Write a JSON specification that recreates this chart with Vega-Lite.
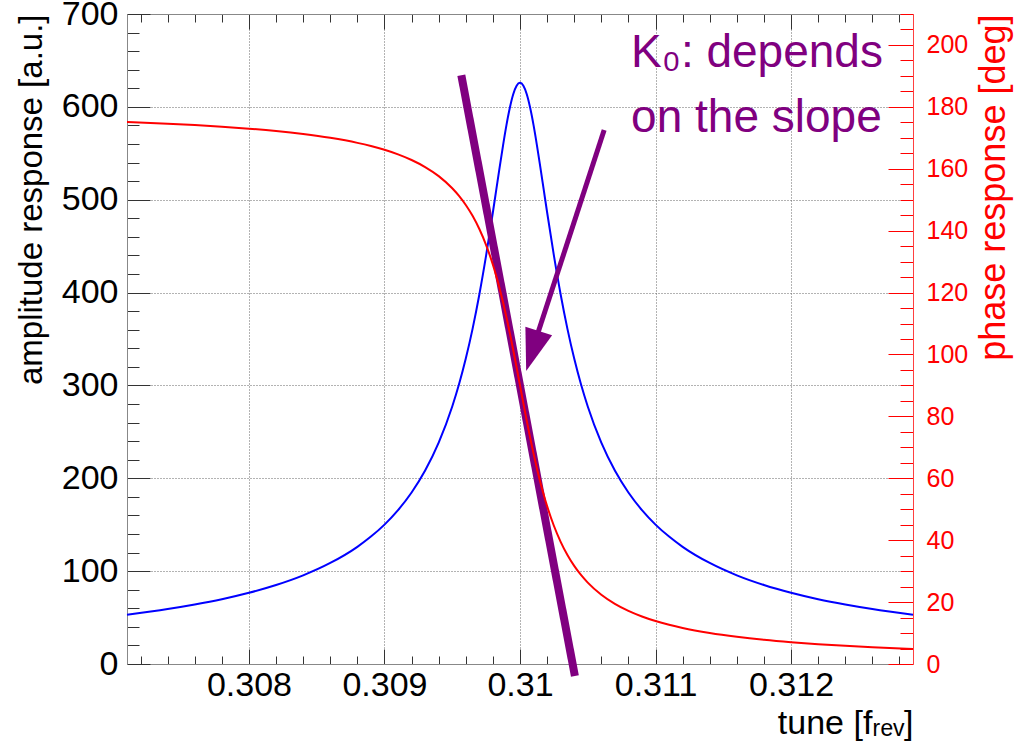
{
  "$schema": "https://vega.github.io/schema/vega-lite/v6.json",
  "width": 786,
  "height": 650,
  "autosize": {"type": "none"},
  "padding": {"left": 127, "top": 14, "right": 116, "bottom": 85},
  "background": "white",
  "config": {
    "view": {"stroke": null},
    "axis": {"labelFont": "Liberation Sans", "titleFont": "Liberation Sans", "titleFontWeight": "normal"},
    "text": {"font": "Liberation Sans"}
  },
  "datasets": {
    "curve": [
      {"x": 0.3071, "amp": 53.1, "phase": 175.13},
      {"x": 0.3074, "amp": 59.2, "phase": 174.57},
      {"x": 0.3076, "amp": 64.1, "phase": 174.12},
      {"x": 0.3078, "amp": 69.8, "phase": 173.59},
      {"x": 0.3080, "amp": 76.7, "phase": 172.96},
      {"x": 0.3082, "amp": 85.1, "phase": 172.19},
      {"x": 0.3084, "amp": 95.5, "phase": 171.22},
      {"x": 0.3086, "amp": 108.8, "phase": 169.99},
      {"x": 0.3088, "amp": 126.2, "phase": 168.37},
      {"x": 0.3089, "amp": 137.2, "phase": 167.34},
      {"x": 0.3090, "amp": 150.1, "phase": 166.13},
      {"x": 0.3091, "amp": 165.7, "phase": 164.65},
      {"x": 0.3092, "amp": 184.7, "phase": 162.84},
      {"x": 0.3093, "amp": 208.3, "phase": 160.56},
      {"x": 0.3094, "amp": 238.3, "phase": 157.63},
      {"x": 0.30950, "amp": 277.3, "phase": 153.71},
      {"x": 0.30955, "amp": 301.2, "phase": 151.24},
      {"x": 0.30960, "amp": 328.9, "phase": 148.30},
      {"x": 0.30965, "amp": 360.9, "phase": 144.79},
      {"x": 0.30970, "amp": 397.9, "phase": 140.53},
      {"x": 0.30975, "amp": 440.0, "phase": 135.34},
      {"x": 0.30980, "amp": 486.5, "phase": 129.00},
      {"x": 0.309825, "amp": 510.8, "phase": 125.32},
      {"x": 0.30985, "amp": 535.1, "phase": 121.27},
      {"x": 0.309875, "amp": 558.6, "phase": 116.84},
      {"x": 0.30990, "amp": 580.3, "phase": 112.04},
      {"x": 0.309925, "amp": 599.0, "phase": 106.89},
      {"x": 0.30995, "amp": 613.6, "phase": 101.44},
      {"x": 0.309975, "amp": 622.8, "phase": 95.78},
      {"x": 0.31000, "amp": 626.0, "phase": 90.00},
      {"x": 0.310025, "amp": 622.8, "phase": 84.22},
      {"x": 0.31005, "amp": 613.6, "phase": 78.56},
      {"x": 0.310075, "amp": 599.0, "phase": 73.11},
      {"x": 0.31010, "amp": 580.3, "phase": 67.96},
      {"x": 0.310125, "amp": 558.6, "phase": 63.16},
      {"x": 0.31015, "amp": 535.1, "phase": 58.73},
      {"x": 0.310175, "amp": 510.8, "phase": 54.68},
      {"x": 0.31020, "amp": 486.5, "phase": 51.00},
      {"x": 0.31025, "amp": 440.0, "phase": 44.66},
      {"x": 0.31030, "amp": 397.9, "phase": 39.47},
      {"x": 0.31035, "amp": 360.9, "phase": 35.21},
      {"x": 0.31040, "amp": 328.9, "phase": 31.70},
      {"x": 0.31045, "amp": 301.2, "phase": 28.76},
      {"x": 0.31050, "amp": 277.3, "phase": 26.29},
      {"x": 0.3106, "amp": 238.3, "phase": 22.37},
      {"x": 0.3107, "amp": 208.3, "phase": 19.44},
      {"x": 0.3108, "amp": 184.7, "phase": 17.16},
      {"x": 0.3109, "amp": 165.7, "phase": 15.35},
      {"x": 0.3110, "amp": 150.1, "phase": 13.87},
      {"x": 0.3111, "amp": 137.2, "phase": 12.66},
      {"x": 0.3112, "amp": 126.2, "phase": 11.63},
      {"x": 0.3114, "amp": 108.8, "phase": 10.01},
      {"x": 0.3116, "amp": 95.5, "phase": 8.78},
      {"x": 0.3118, "amp": 85.1, "phase": 7.81},
      {"x": 0.3120, "amp": 76.7, "phase": 7.04},
      {"x": 0.3122, "amp": 69.8, "phase": 6.41},
      {"x": 0.3124, "amp": 64.1, "phase": 5.88},
      {"x": 0.3126, "amp": 59.2, "phase": 5.43},
      {"x": 0.3129, "amp": 53.1, "phase": 4.87}
    ],
    "annot": [
      {"kind": "slope", "x": 0.309567, "amp": 634},
      {"kind": "slope", "x": 0.310405, "amp": -13},
      {"kind": "arrow", "x": 0.310621, "amp": 575},
      {"kind": "arrow", "x": 0.31012, "amp": 351},
      {"kind": "head", "x": 0.310092, "amp": 337},
      {"kind": "label", "x": 0.31082, "amp": 643, "text": "K₀: depends"},
      {"kind": "label", "x": 0.31082, "amp": 573, "text": "on the slope"}
    ]
  },
  "layer": [
    {
      "layer": [
        {
          "data": {"name": "curve"},
          "mark": {"type": "line", "color": "#0000ff", "strokeWidth": 2, "interpolate": "monotone"},
          "encoding": {
            "x": {
              "field": "x", "type": "quantitative",
              "scale": {"domain": [0.3071, 0.3129], "nice": false, "zero": false},
              "axis": {
                "title": "tune [fᵣₑᵥ]",
                "titleAnchor": "end",
                "titleFontSize": 34,
                "titleColor": "#000",
                "titlePadding": -3,
                "tickCount": 1000,
                "values": [0.3072,0.3074,0.3076,0.3078,0.308,0.3082,0.3084,0.3086,0.3088,0.309,0.3092,0.3094,0.3096,0.3098,0.31,0.3102,0.3104,0.3106,0.3108,0.311,0.3112,0.3114,0.3116,0.3118,0.312,0.3122,0.3124,0.3126,0.3128],
                "labelExpr": "round(datum.value*10000) % 10 == 0 ? format(datum.value, '.3~f') : ''",
                "labelOverlap": false,
                "labelFlush": false,
                "labelFontSize": 34,
                "labelColor": "#000",
                "labelPadding": 19,
                "tickSize": {"condition": {"test": "round(datum.value*10000) % 10 == 0", "value": -15}, "value": -8},
                "tickColor": "#333",
                "domainColor": "#888",
                "grid": true,
                "gridDash": [1, 2],
                "gridColor": {"condition": {"test": "round(datum.value*10000) % 10 == 0", "value": "#666"}, "value": "transparent"}
              }
            },
            "y": {
              "field": "amp", "type": "quantitative",
              "scale": {"domain": [0, 700], "nice": false},
              "axis": {
                "title": "amplitude response [a.u.]",
                "titleAnchor": "end",
                "titleFontSize": 33,
                "titleColor": "#000",
                "titlePadding": 13,
                "tickCount": 1000,
                "values": [0,20,40,60,80,100,120,140,160,180,200,220,240,260,280,300,320,340,360,380,400,420,440,460,480,500,520,540,560,580,600,620,640,660,680,700],
                "labelExpr": "datum.value % 100 == 0 ? datum.value : ''",
                "labelOverlap": false,
                "labelFlush": false,
                "labelFontSize": 34,
                "labelColor": "#000",
                "labelPadding": 32,
                "tickSize": {"condition": {"test": "datum.value % 100 == 0", "value": -23}, "value": -12},
                "tickColor": "#333",
                "domainColor": "#888",
                "grid": true,
                "gridDash": [1, 2],
                "gridColor": {"condition": {"test": "datum.value % 100 == 0", "value": "#666"}, "value": "transparent"}
              }
            }
          }
        },
        {
          "data": {"name": "annot"},
          "transform": [{"filter": "datum.kind == 'slope'"}],
          "mark": {"type": "line", "color": "#800080", "strokeWidth": 8, "strokeCap": "butt"},
          "encoding": {
            "x": {"field": "x", "type": "quantitative"},
            "y": {"field": "amp", "type": "quantitative"}
          }
        },
        {
          "data": {"name": "annot"},
          "transform": [{"filter": "datum.kind == 'arrow'"}],
          "mark": {"type": "line", "color": "#800080", "strokeWidth": 5, "strokeCap": "butt"},
          "encoding": {
            "x": {"field": "x", "type": "quantitative"},
            "y": {"field": "amp", "type": "quantitative"}
          }
        },
        {
          "data": {"name": "annot"},
          "transform": [{"filter": "datum.kind == 'head'"}],
          "mark": {"type": "point", "shape": "M -0.667 -1 L 0.667 -1 L 0 1 Z", "size": 1764, "angle": 17.4, "filled": true, "color": "#800080", "opacity": 1, "strokeWidth": 0},
          "encoding": {
            "x": {"field": "x", "type": "quantitative"},
            "y": {"field": "amp", "type": "quantitative"}
          }
        },
        {
          "data": {"name": "annot"},
          "transform": [{"filter": "datum.kind == 'label'"}],
          "mark": {"type": "text", "color": "#800080", "fontSize": 46, "align": "left", "baseline": "alphabetic", "font": "Liberation Sans"},
          "encoding": {
            "x": {"field": "x", "type": "quantitative"},
            "y": {"field": "amp", "type": "quantitative"},
            "text": {"field": "text"}
          }
        }
      ]
    },
    {
      "data": {"name": "curve"},
      "mark": {"type": "line", "color": "#ff0000", "strokeWidth": 2, "interpolate": "monotone"},
      "encoding": {
        "x": {
          "field": "x", "type": "quantitative",
          "scale": {"domain": [0.3071, 0.3129], "nice": false, "zero": false},
          "axis": {
            "orient": "top",
            "title": null,
            "labels": false,
            "tickCount": 1000,
            "values": [0.3072,0.3074,0.3076,0.3078,0.308,0.3082,0.3084,0.3086,0.3088,0.309,0.3092,0.3094,0.3096,0.3098,0.31,0.3102,0.3104,0.3106,0.3108,0.311,0.3112,0.3114,0.3116,0.3118,0.312,0.3122,0.3124,0.3126,0.3128],
            "tickSize": {"condition": {"test": "round(datum.value*10000) % 10 == 0", "value": -15}, "value": -8},
            "tickColor": "#333",
            "domainColor": "#888",
            "grid": false
          }
        },
        "y": {
          "field": "phase", "type": "quantitative",
          "scale": {"domain": [0, 210], "nice": false},
          "axis": {
            "orient": "right",
            "title": "phase response [deg]",
            "titleAnchor": "end",
            "titleAngle": 270,
            "titleFontSize": 36,
            "titleColor": "#ff0000",
            "titlePadding": 45,
            "tickCount": 1000,
            "values": [0,5,10,15,20,25,30,35,40,45,50,55,60,65,70,75,80,85,90,95,100,105,110,115,120,125,130,135,140,145,150,155,160,165,170,175,180,185,190,195,200,205,210],
            "labelExpr": "datum.value % 20 == 0 ? datum.value : ''",
            "labelOverlap": false,
            "labelFlush": false,
            "labelFontSize": 25,
            "labelColor": "#ff0000",
            "labelPadding": 38,
            "tickSize": {"condition": {"test": "datum.value % 20 == 0", "value": -25}, "value": -13},
            "tickColor": "#ff0000",
            "domainColor": "#ff4040",
            "grid": false
          }
        }
      }
    }
  ],
  "resolve": {"scale": {"x": "independent", "y": "independent"}, "axis": {"x": "independent", "y": "independent"}}
}
